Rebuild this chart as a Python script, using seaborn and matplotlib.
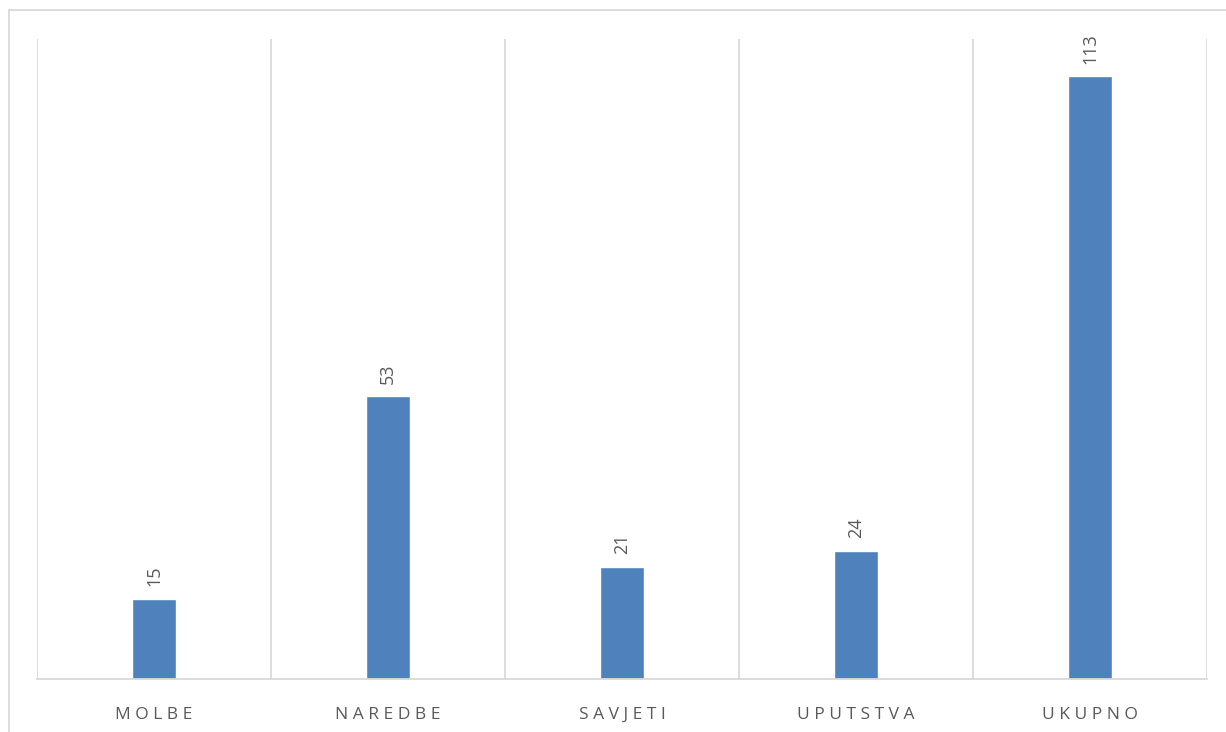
import matplotlib
matplotlib.use("Agg")
import matplotlib.pyplot as plt
import seaborn as sns
import pandas as pd
from matplotlib.patches import Rectangle

categories = ["MOLBE", "NAREDBE", "SAVJETI", "UPUTSTVA", "UKUPNO"]
values = [15, 53, 21, 24, 113]

sns.set_theme(style="white")
plt.rcParams["font.family"] = ["Open Sans", "DejaVu Sans"]

df = pd.DataFrame({"kategorija": categories, "broj": values})

fig = plt.figure(figsize=(12.26, 7.32), dpi=100)
ax = fig.add_axes([37 / 1226, 53 / 732, 1170 / 1226, 640 / 732])

sns.barplot(data=df, x="kategorija", y="broj", color="#4F81BD",
            width=0.185, saturation=1, ax=ax)

ax.set_ylim(0, 120)
ax.set_xlim(-0.5, len(categories) - 0.5)

# vertical separators between categories
for b in range(len(categories) + 1):
    ax.axvline(b - 0.5, color="#D9D9D9", lw=1.3, zorder=0)

for s in ["top", "right", "left"]:
    ax.spines[s].set_visible(False)
ax.spines["bottom"].set_color("#D9D9D9")
ax.spines["bottom"].set_linewidth(1.3)

ax.set_yticks([])
ax.set_xlabel("")
ax.set_ylabel("")
ax.set_xticks(range(len(categories)))
ax.set_xticklabels([" ".join(c) for c in categories], color="#595959", fontsize=12.5)
ax.tick_params(axis="x", length=0, pad=29)
for lbl in ax.get_xticklabels():
    lbl.set_verticalalignment("baseline")

for cont in ax.containers:
    ax.bar_label(cont, labels=[str(v) for v in values], rotation=90,
                 padding=9, color="#595959", fontsize=13)

# outer chart frame
fig.patches.append(Rectangle((9 / 1226, -0.01), 1.02, (732 - 10) / 732 + 0.01,
                             transform=fig.transFigure, fill=False,
                             edgecolor="#D9D9D9", lw=1.3))

fig.savefig("out.png", dpi=100, facecolor="white")
